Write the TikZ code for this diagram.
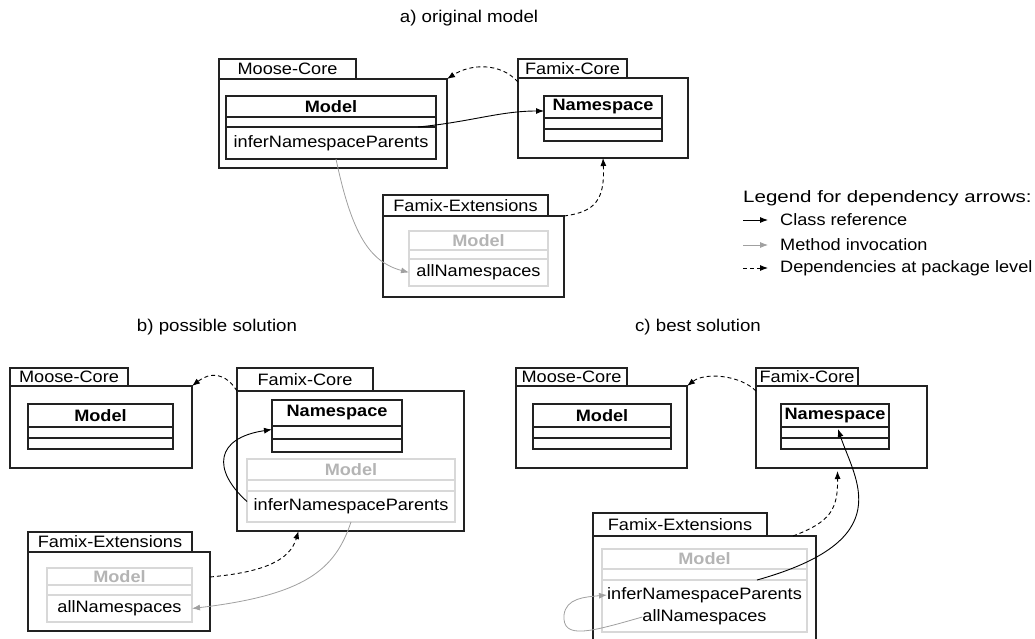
\documentclass[tikz,border=0pt]{standalone}
\usepackage{fontspec}
\usepackage{graphicx}
\setmainfont{Liberation Sans}[FakeStretch=1.1]
\usetikzlibrary{arrows.meta}
\definecolor{methgray}{HTML}{A0A0A0}
\definecolor{boxgray}{HTML}{D8D8D8}
\definecolor{txtgray}{HTML}{B4B4B4}
\definecolor{pkgline}{HTML}{222222}
\newcommand{\mypkg}[8]{%
  \node[pkgtab, minimum width=#4, minimum height=#5] (#1-tab) at (#2,#3) {#8};
  \node[pkgbody, minimum width=#6, minimum height=#7] (#1) at (#2,{#3+#5}) {};
}
% name, x, y, w, h1, h2, h3, title, methods
\newcommand{\myclass}[9]{%
  \node[clsbox, minimum width=#4, minimum height=#5, font=\fontsize{16.5}{19}\selectfont\bfseries] (#1) at (#2,#3) {#8};
  \node[clsbox, minimum width=#4, minimum height=#6] (#1-attr) at (#2,{#3+#5}) {};
  \node[clsbox, minimum width=#4, minimum height=#7] (#1-meth) at (#2,{#3+#5+#6}) {#9};
}
\begin{document}
\begin{tikzpicture}[x=1pt,y=-1pt,
  every node/.style={font=\fontsize{16.5}{19}\selectfont},
  pkgtab/.style={draw=pkgline, line width=1.1pt, anchor=north west, inner sep=0pt, outer sep=0pt, fill=white},
  pkgbody/.style={draw=pkgline, line width=1.1pt, anchor=north west, inner sep=0pt, outer sep=0pt},
  clsbox/.style={draw=pkgline, line width=1.1pt, anchor=north west, inner sep=0pt, outer sep=0pt, align=center},
  graycls/.style={clsbox/.append style={draw=boxgray, text=txtgray}},
  title/.style={font=\fontsize{17}{20}\selectfont, inner sep=0pt},
  legtxt/.style={anchor=west, inner sep=0pt},
  tip/.style={-{Latex[length=8pt,width=6pt]}},
  pkgdep/.style={tip, draw=black, line width=0.9pt, dash pattern=on 4pt off 3pt},
  classref/.style={tip, draw=black, line width=0.9pt},
  methinv/.style={tip, draw=methgray, line width=0.8pt},
]
\useasboundingbox (0,0) rectangle (1035,639);
\clip (0,0) rectangle (1035,639);

% ---------- titles ----------
\node[title] (ta) at (469,18) {a) original model};
\node[title] (tb) at (217,327) {b) possible solution};
\node[title] (tc) at (698,327) {c) best solution};

% ---------- a) ----------
\mypkg{mcA}{219}{59}{137}{20}{228}{89}{Moose-Core}
\mypkg{fcA}{518}{59}{109}{19}{170}{80}{Famix-Core}
\mypkg{feA}{383}{195}{165}{21}{181}{81}{Famix-Extensions}
\myclass{modelA}{226}{96}{210}{21}{10}{32}{Model}{inferNamespaceParents}
\myclass{nsA}{544}{96}{118}{22}{11}{12}{Namespace}{}
\begin{scope}[graycls]
\myclass{feModelA}{409}{231}{139}{19}{9}{27}{Model}{\textcolor{black}{allNamespaces}}
\end{scope}

\draw[pkgdep] ([yshift=-4pt]fcA.north west) .. controls (500,62) and (470,64) .. (mcA.north east);
\draw[classref] ([xshift=-18pt]modelA-meth.north east) .. controls (470,122) and (500,111) .. ([yshift=-4pt]nsA.west);
\draw[methinv] ([xshift=5pt]modelA-meth.south) .. controls (352,235) and (370,262) .. (feModelA-meth.west);
\draw[pkgdep] (feA.north east) .. controls (595,212) and (605,200) .. (fcA.south);

% ---------- legend ----------
\node[legtxt] (legtitle) at (743,198) {\scalebox{1.13}[1]{Legend for dependency arrows:}};
\coordinate (l1a) at (743,220); \coordinate (l1b) at (768,220);
\coordinate (l2a) at (743,245); \coordinate (l2b) at (768,245);
\coordinate (l3a) at (743,268); \coordinate (l3b) at (768,268);
\draw[classref] (l1a) -- (l1b);
\draw[methinv] (l2a) -- (l2b);
\draw[pkgdep] (l3a) -- (l3b);
\node[legtxt] (leg1) at (780,220) {Class reference};
\node[legtxt] (leg2) at (780,245) {Method invocation};
\node[legtxt] (leg3) at (780,268) {Dependencies at package level};

% ---------- b) ----------
\mypkg{mcB}{10}{368}{118}{18}{182}{82}{Moose-Core}
\mypkg{fcB}{237}{368}{136}{23}{227}{140}{Famix-Core}
\mypkg{feB}{28}{532}{164}{20}{182}{79}{Famix-Extensions}
\myclass{modelB}{28}{404}{145}{23}{11}{11}{Model}{}
\myclass{nsB}{272}{400}{130}{26}{13}{13}{Namespace}{}
\begin{scope}[graycls]
\myclass{fcModelB}{247}{459}{208}{21}{11}{31}{Model}{\textcolor{black}{inferNamespaceParents}}
\myclass{feModelB}{47}{568}{145}{17}{10}{27}{Model}{\textcolor{black}{allNamespaces}}
\end{scope}

\draw[pkgdep] (fcB.north west) .. controls (225,372) and (210,372) .. (mcB.north east);
\draw[classref] ([yshift=5pt]fcModelB-meth.west) .. controls (212,470) and (215,438) .. ([yshift=3pt]nsB-attr.west);
\draw[pkgdep] ([yshift=-25pt]feB.north east) .. controls (265,572) and (290,560) .. ([xshift=-52pt]fcB.south);
\draw[methinv] (fcModelB-meth.south) .. controls (335,570) and (305,595) .. (feModelB-meth.east);

% ---------- c) ----------
\mypkg{mcC}{516}{368}{111}{18}{171}{82}{Moose-Core}
\mypkg{fcC}{756}{368}{102}{18}{171}{82}{Famix-Core}
\mypkg{feC}{593}{513}{174}{23}{223}{130}{Famix-Extensions}
\myclass{modelC}{533}{404}{138}{23}{11}{11}{Model}{}
\myclass{nsC}{781}{404}{108}{23}{11}{11}{Namespace}{}
\begin{scope}[graycls]
\myclass{feModelC}{602}{549}{205}{20}{11}{52}{Model}{}
\end{scope}
\node[inner sep=0pt] (inferC) at (704.5,595) {inferNamespaceParents};
\node[inner sep=0pt] (allC) at (704.5,617) {allNamespaces};

\draw[pkgdep] ([yshift=-5pt]fcC.north west) .. controls (740,375) and (705,372) .. (mcC.north east);
\draw[pkgdep] ([xshift=-23pt]feC.north east) .. controls (830,522) and (838,510) .. ([xshift=-4pt,yshift=-3pt]fcC.south);
\draw[classref] ([xshift=-50pt]feModelC-attr.south east) .. controls (900,540) and (855,480) .. ([xshift=3pt,yshift=-2pt]nsC.south);
\draw[methinv] (allC.west) .. controls (590,632) and (562,640) .. (564,615) .. controls (566,598) and (585,597) .. (inferC.west);
\end{tikzpicture}
\end{document}
